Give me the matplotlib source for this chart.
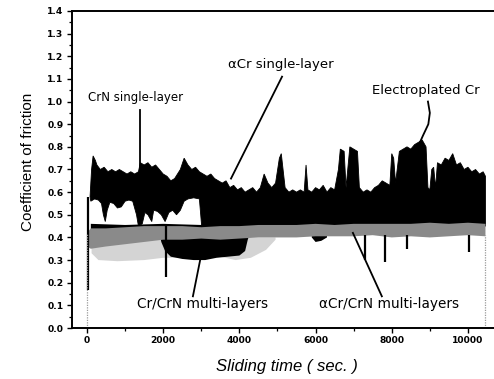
import matplotlib
matplotlib.use("Agg")
import matplotlib.pyplot as plt
from matplotlib.ticker import MultipleLocator, FormatStrFormatter

# ---------------- data ----------------
# upper black band (CrN single-layer / aCr single-layer / Electroplated Cr) – top envelope
top_t = [80, 120, 160, 220, 260, 350, 450, 550, 650, 750, 850, 950, 1050, 1150, 1250,
         1350, 1400, 1500, 1600, 1700, 1800, 1900, 2000, 2100, 2200, 2300, 2450, 2550,
         2650, 2750, 2850, 2950, 3050, 3150, 3250, 3350, 3450, 3550, 3650, 3750, 3850,
         3950, 4050, 4150, 4250, 4350, 4450, 4550, 4650, 4750, 4850, 4950, 5050, 5100,
         5200, 5300, 5400, 5500, 5600, 5700, 5750, 5800, 5900, 6000, 6100, 6200, 6300,
         6400, 6500, 6600, 6650, 6750, 6800, 6900, 7000, 7100, 7150, 7250, 7350, 7450,
         7550, 7650, 7750, 7850, 7950, 8000, 8050, 8100, 8200, 8300, 8400, 8500, 8600,
         8700, 8800, 8900, 8950, 9000, 9050, 9100, 9150, 9200, 9300, 9400, 9500, 9600,
         9700, 9800, 9900, 10000, 10100, 10200, 10300, 10400, 10460]
top_y = [0.58, 0.70, 0.76, 0.74, 0.72, 0.70, 0.71, 0.69, 0.70, 0.69, 0.70, 0.69, 0.68,
         0.69, 0.68, 0.69, 0.73, 0.72, 0.73, 0.71, 0.72, 0.70, 0.68, 0.67, 0.65, 0.66,
         0.70, 0.75, 0.72, 0.70, 0.71, 0.69, 0.68, 0.67, 0.68, 0.66, 0.65, 0.64, 0.65,
         0.62, 0.63, 0.61, 0.62, 0.60, 0.61, 0.62, 0.60, 0.62, 0.68, 0.64, 0.62, 0.64,
         0.75, 0.77, 0.62, 0.60, 0.61, 0.60, 0.61, 0.60, 0.72, 0.61, 0.60, 0.62, 0.61,
         0.63, 0.60, 0.62, 0.61, 0.70, 0.79, 0.78, 0.62, 0.80, 0.79, 0.78, 0.62, 0.60,
         0.61, 0.60, 0.62, 0.63, 0.65, 0.64, 0.63, 0.77, 0.75, 0.64, 0.78, 0.79, 0.80,
         0.79, 0.81, 0.82, 0.83, 0.80, 0.62, 0.61, 0.70, 0.71, 0.62, 0.73, 0.72, 0.75,
         0.74, 0.77, 0.72, 0.73, 0.70, 0.71, 0.69, 0.70, 0.68, 0.69, 0.67]
# upper black band – lower envelope
alow_t = [80, 100, 200, 300, 380, 430, 480, 530, 600, 700, 800, 900, 1000, 1100, 1200,
          1300, 1350, 1450, 1520, 1600, 1700, 1750, 1850, 1950, 2050, 2150, 2250, 2350,
          2450, 2550, 2650, 2800, 2950, 3010, 3100, 4300, 10460]
alow_y = [0.58, 0.56, 0.57, 0.565, 0.55, 0.50, 0.47, 0.52, 0.555, 0.55, 0.53, 0.535,
          0.56, 0.565, 0.56, 0.50, 0.45, 0.46, 0.51, 0.50, 0.47, 0.52, 0.515, 0.50, 0.47,
          0.51, 0.52, 0.50, 0.52, 0.56, 0.57, 0.575, 0.57, 0.45, 0.44, 0.44, 0.45]
# lower black line (under the white gap)
b_t = [100, 1000, 2000, 3000, 4300]
b_top = [0.46, 0.455, 0.46, 0.455, 0.46]
b_bot = [0.41, 0.41, 0.41, 0.41, 0.41]
# Cr/CrN multi-layers black blob
e_t = [1900, 1950, 2050, 2200, 2500, 2800, 3100, 3400, 3700, 4000, 4150, 4220, 4260]
e_bot = [0.42, 0.38, 0.34, 0.315, 0.305, 0.30, 0.30, 0.31, 0.315, 0.32, 0.34, 0.39, 0.41]
e_top = 0.43
# small black blob under the grey band
e2_t = [5900, 6000, 6150, 6300]
e2_bot = [0.40, 0.38, 0.385, 0.40]
# aCr/CrN multi-layers grey band
c_t = [0, 100, 500, 1000, 1500, 2000, 2500, 3000, 3500, 4000, 4500, 5000, 5500, 6000,
       6500, 7000, 7500, 8000, 8500, 9000, 9500, 10000, 10460]
c_top = [0.42, 0.44, 0.44, 0.445, 0.45, 0.45, 0.45, 0.445, 0.45, 0.45, 0.455, 0.455,
         0.455, 0.46, 0.455, 0.46, 0.46, 0.46, 0.46, 0.465, 0.46, 0.465, 0.46]
c_bot = [0.36, 0.35, 0.36, 0.37, 0.38, 0.39, 0.39, 0.395, 0.39, 0.395, 0.40, 0.40, 0.40,
         0.405, 0.405, 0.405, 0.41, 0.40, 0.405, 0.40, 0.405, 0.41, 0.405]
# light grey lower band
d_t = [120, 300, 800, 1500, 2000, 2500, 3500, 3900, 4300, 4700, 4950]
d_top = 0.40
d_bot = [0.33, 0.30, 0.295, 0.30, 0.31, 0.31, 0.315, 0.30, 0.31, 0.345, 0.39]
# vertical spikes (time, low, high)
spike_t = [20, 2080, 7300, 7820, 8390, 10040]
spike_lo = [0.17, 0.225, 0.30, 0.29, 0.35, 0.335]
spike_hi = [0.58, 0.45, 0.41, 0.41, 0.41, 0.41]
grey_edges_t = [0, 10460]
grey_edges_hi = [0.42, 0.41]

# annotations: text, text position, pointer polyline
labels = ["CrN single-layer", "αCr single-layer", "Electroplated Cr",
          "Cr/CrN multi-layers", "αCr/CrN multi-layers"]
label_xy = [(1286, 1.016), (3700, 1.162), (7480, 1.051), (3045, 0.108), (7928, 0.108)]
label_ha = ["center", "left", "left", "center", "center"]
label_size = [8.5, 9.5, 9.5, 9.8, 9.8]
pointers = [([1390, 1390], [0.963, 0.70]),
            ([5120, 3780], [1.11, 0.66]),
            ([8950, 9000, 8960, 8820, 8740], [1.0, 0.95, 0.90, 0.85, 0.82]),
            ([2780, 2970], [0.14, 0.30]),
            ([7740, 6980], [0.14, 0.42])]

x_ticks = [0, 2000, 4000, 6000, 8000, 10000]

# ---------------- drawing ----------------
fig = plt.figure(figsize=(4.94, 3.79), dpi=100)
ax = fig.add_axes([72 / 494, 51 / 379, (494 - 72) / 494, (328 - 11) / 379])

ax.fill(d_t + d_t[::-1], [d_top] * len(d_t) + d_bot[::-1], color="#d4d4d4", lw=0)
ax.fill(e_t + e_t[::-1], [e_top] * len(e_t) + e_bot[::-1], color="black", lw=0)
ax.fill(e2_t + e2_t[::-1], [0.41] * len(e2_t) + e2_bot[::-1], color="black", lw=0)
ax.fill(b_t + b_t[::-1], b_top + b_bot[::-1], color="black", lw=0)
ax.fill(top_t + alow_t[::-1], top_y + alow_y[::-1], color="black", lw=0.6,
        edgecolor="black")
ax.fill(c_t + c_t[::-1], c_top + c_bot[::-1], color="#8a8a8a", lw=0)

for t, lo, hi in zip(spike_t, spike_lo, spike_hi):
    ax.plot([t, t], [lo, hi], color="black", lw=1.6, solid_capstyle="butt")
for t, hi in zip(grey_edges_t, grey_edges_hi):
    ax.plot([t, t], [0, hi], color="#9a9a9a", lw=0.9, ls=(0, (1, 1)))

for txt, (x, y), ha, fs in zip(labels, label_xy, label_ha, label_size):
    ax.text(x, y, txt, ha=ha, va="center", fontsize=fs, family="DejaVu Sans",
            clip_on=False)
for xs, ys in pointers:
    ax.plot(xs, ys, color="black", lw=1.3)

ax.set_xlim(-394, 10684)
ax.set_ylim(0, 1.4)
ax.set_xticks(x_ticks)
ax.xaxis.set_minor_locator(MultipleLocator(1000))
ax.yaxis.set_major_locator(MultipleLocator(0.1))
ax.yaxis.set_minor_locator(MultipleLocator(0.05))
ax.yaxis.set_major_formatter(FormatStrFormatter("%.1f"))
ax.tick_params(which="major", direction="out", length=3.6, width=1.0, pad=2.5,
               labelsize=6.6)
ax.tick_params(which="minor", direction="out", length=2.0, width=0.9)
for lab in ax.get_xticklabels() + ax.get_yticklabels():
    lab.set_fontweight("bold")
ax.spines["right"].set_visible(False)
for s in ["left", "bottom", "top"]:
    ax.spines[s].set_linewidth(1.4)

fig.text(28 / 494, (379 - 162) / 379, "Coefficient of friction", rotation=90,
         ha="center", va="center", fontsize=11, family="Liberation Sans")
fig.text(287 / 494, (379 - 367) / 379, "Sliding time ( sec. )", ha="center",
         va="center", fontsize=12, style="italic", family="Liberation Sans")

fig.savefig("out.png", dpi=100)
